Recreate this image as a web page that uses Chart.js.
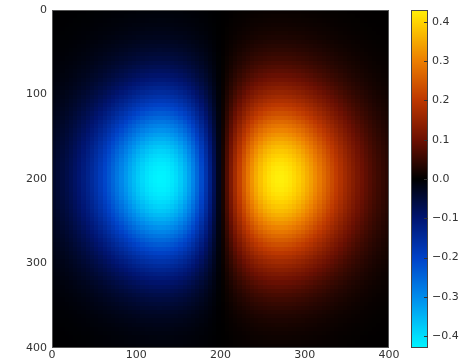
<!DOCTYPE html>
<html>
<head>
<meta charset="utf-8">
<script src="https://cdn.jsdelivr.net/npm/chart.js@4"></script>
<style>
  body { margin: 0; background: #fff; }
  #wrap { width: 474px; height: 361px; }
</style>
</head>
<body>
<div id="wrap"><canvas id="heatChart" width="474" height="361"></canvas></div>
<script>
// tick labels
const xTicks = [0, 100, 200, 300, 400];
const yTicks = [0, 100, 200, 300, 400];
const cbTicks = [-0.4, -0.3, -0.2, -0.1, 0.0, 0.1, 0.2, 0.3, 0.4];
const cbRange = [-0.43, 0.43];

// grid is 80 x 80 cells, each 5 units wide (0..400)
const cellSize = 5;

// values along the middle row (y = 200), left to right
const rowProfile = [
  -0.040, -0.047, -0.056, -0.065, -0.076, -0.088, -0.101, -0.116, -0.132, -0.149,
  -0.167, -0.187, -0.208, -0.229, -0.251, -0.273, -0.295, -0.317, -0.339, -0.358,
  -0.377, -0.393, -0.407, -0.418, -0.425, -0.429, -0.428, -0.423, -0.413, -0.399,
  -0.379, -0.355, -0.326, -0.292, -0.255, -0.214, -0.170, -0.123, -0.075, -0.025,
  0.025, 0.075, 0.123, 0.170, 0.214, 0.255, 0.292, 0.326, 0.355, 0.379,
  0.399, 0.413, 0.423, 0.428, 0.429, 0.425, 0.418, 0.407, 0.393, 0.377,
  0.358, 0.339, 0.317, 0.295, 0.273, 0.251, 0.229, 0.208, 0.187, 0.167,
  0.149, 0.132, 0.116, 0.101, 0.088, 0.076, 0.065, 0.056, 0.047, 0.040
];

// relative strength of each row, top to bottom
const colFalloff = [
  0.020, 0.025, 0.030, 0.036, 0.043, 0.051, 0.060, 0.071, 0.084, 0.098,
  0.114, 0.131, 0.151, 0.173, 0.197, 0.223, 0.251, 0.282, 0.315, 0.350,
  0.386, 0.425, 0.465, 0.506, 0.548, 0.591, 0.634, 0.677, 0.718, 0.759,
  0.798, 0.835, 0.869, 0.900, 0.927, 0.951, 0.970, 0.985, 0.994, 0.999,
  0.999, 0.994, 0.985, 0.970, 0.951, 0.927, 0.900, 0.869, 0.835, 0.798,
  0.759, 0.718, 0.677, 0.634, 0.591, 0.548, 0.506, 0.465, 0.425, 0.386,
  0.350, 0.315, 0.282, 0.251, 0.223, 0.197, 0.173, 0.151, 0.131, 0.114,
  0.098, 0.084, 0.071, 0.060, 0.051, 0.043, 0.036, 0.030, 0.025, 0.020
];

// colormap anchors: position in [-1, 1] -> rgb
const cmapStops = [
  [-1.00, [0, 245, 255]],
  [-0.93, [0, 222, 252]],
  [-0.70, [0, 140, 236]],
  [-0.47, [0, 66, 200]],
  [-0.23, [0, 20, 112]],
  [0.00, [0, 0, 0]],
  [0.23, [108, 16, 2]],
  [0.47, [190, 56, 0]],
  [0.70, [236, 126, 0]],
  [0.93, [255, 212, 0]],
  [1.00, [255, 240, 10]]
];

function colorFor(v) {
  let t = v / cbRange[1];
  t = Math.max(-1, Math.min(1, t));
  for (let i = 1; i < cmapStops.length; i++) {
    const a = cmapStops[i - 1], b = cmapStops[i];
    if (t <= b[0]) {
      const f = (t - a[0]) / (b[0] - a[0]);
      const c = a[1].map((ch, k) => Math.round(ch + (b[1][k] - ch) * f));
      return `rgb(${c[0]},${c[1]},${c[2]})`;
    }
  }
  const last = cmapStops[cmapStops.length - 1][1];
  return `rgb(${last[0]},${last[1]},${last[2]})`;
}

const heatmapPlugin = {
  id: 'heatmap',
  beforeDatasetsDraw(chart) {
    const ctx = chart.ctx;
    const xs = chart.scales.x, ys = chart.scales.y;
    ctx.save();
    for (let j = 0; j < colFalloff.length; j++) {
      const y0 = Math.round(ys.getPixelForValue(j * cellSize));
      const y1 = Math.round(ys.getPixelForValue((j + 1) * cellSize));
      for (let i = 0; i < rowProfile.length; i++) {
        const x0 = Math.round(xs.getPixelForValue(i * cellSize));
        const x1 = Math.round(xs.getPixelForValue((i + 1) * cellSize));
        ctx.fillStyle = colorFor(rowProfile[i] * colFalloff[j]);
        ctx.fillRect(x0, y0, x1 - x0, y1 - y0);
      }
    }
    ctx.restore();
  },
  afterDraw(chart) {
    const ctx = chart.ctx;
    const area = chart.chartArea;
    const cb = chart.scales.cb;
    ctx.save();
    // main frame
    ctx.strokeStyle = '#555';
    ctx.lineWidth = 1;
    ctx.strokeRect(area.left + 0.5, area.top + 0.5, area.right - area.left - 1, area.bottom - area.top - 1);

    // colorbar strip
    const left = area.right + 22, right = area.right + 39;
    for (let py = Math.round(cb.top); py < Math.round(cb.bottom); py++) {
      ctx.fillStyle = colorFor(cb.getValueForPixel(py + 0.5));
      ctx.fillRect(left, py, right - left, 1);
    }
    ctx.strokeStyle = '#444';
    ctx.strokeRect(left + 0.5, cb.top + 0.5, right - left - 1, cb.bottom - cb.top - 1);
    ctx.strokeStyle = '#333';
    cbTicks.forEach(v => {
      const py = Math.round(cb.getPixelForValue(v)) + 0.5;
      ctx.beginPath();
      ctx.moveTo(right - 4, py);
      ctx.lineTo(right, py);
      ctx.stroke();
    });
    ctx.restore();
  }
};

const tickFont = { family: 'DejaVu Sans', size: 11 };
// invisible tick marks are used only to push the labels away from the axis
const hiddenGrid = len => ({
  display: true,
  drawOnChartArea: false,
  drawTicks: true,
  tickLength: len,
  color: 'rgba(0,0,0,0)'
});

new Chart(document.getElementById('heatChart'), {
  type: 'scatter',
  data: { datasets: [{ data: [], pointRadius: 0 }] },
  options: {
    responsive: false,
    animation: false,
    devicePixelRatio: 1,
    layout: { padding: { top: 10, left: 0, right: 0, bottom: 0 } },
    plugins: { legend: { display: false }, tooltip: { enabled: false } },
    scales: {
      x: {
        type: 'linear',
        position: 'bottom',
        min: 0,
        max: 400,
        grid: hiddenGrid(1),
        border: { display: false },
        afterBuildTicks: s => { s.ticks = xTicks.map(v => ({ value: v })); },
        afterFit: s => { s.height = 13; },
        ticks: { font: tickFont, color: '#333', padding: 0, maxRotation: 0, autoSkip: false }
      },
      y: {
        type: 'linear',
        position: 'left',
        reverse: true,
        min: 0,
        max: 400,
        grid: hiddenGrid(5),
        border: { display: false },
        afterBuildTicks: s => { s.ticks = yTicks.map(v => ({ value: v })); },
        afterFit: s => { s.width = 52; },
        ticks: { font: tickFont, color: '#333', padding: 0, autoSkip: false }
      },
      cb: {
        type: 'linear',
        position: 'right',
        min: cbRange[0],
        max: cbRange[1],
        grid: hiddenGrid(42),
        border: { display: false },
        afterBuildTicks: s => { s.ticks = cbTicks.map(v => ({ value: v })); },
        afterFit: s => { s.width = 85; },
        ticks: {
          font: tickFont,
          color: '#333',
          padding: 1,
          autoSkip: false,
          callback: v => (v < -1e-9 ? '\u2212' : '') + Math.abs(v).toFixed(1)
        }
      }
    }
  },
  plugins: [heatmapPlugin]
});
</script>
</body>
</html>
